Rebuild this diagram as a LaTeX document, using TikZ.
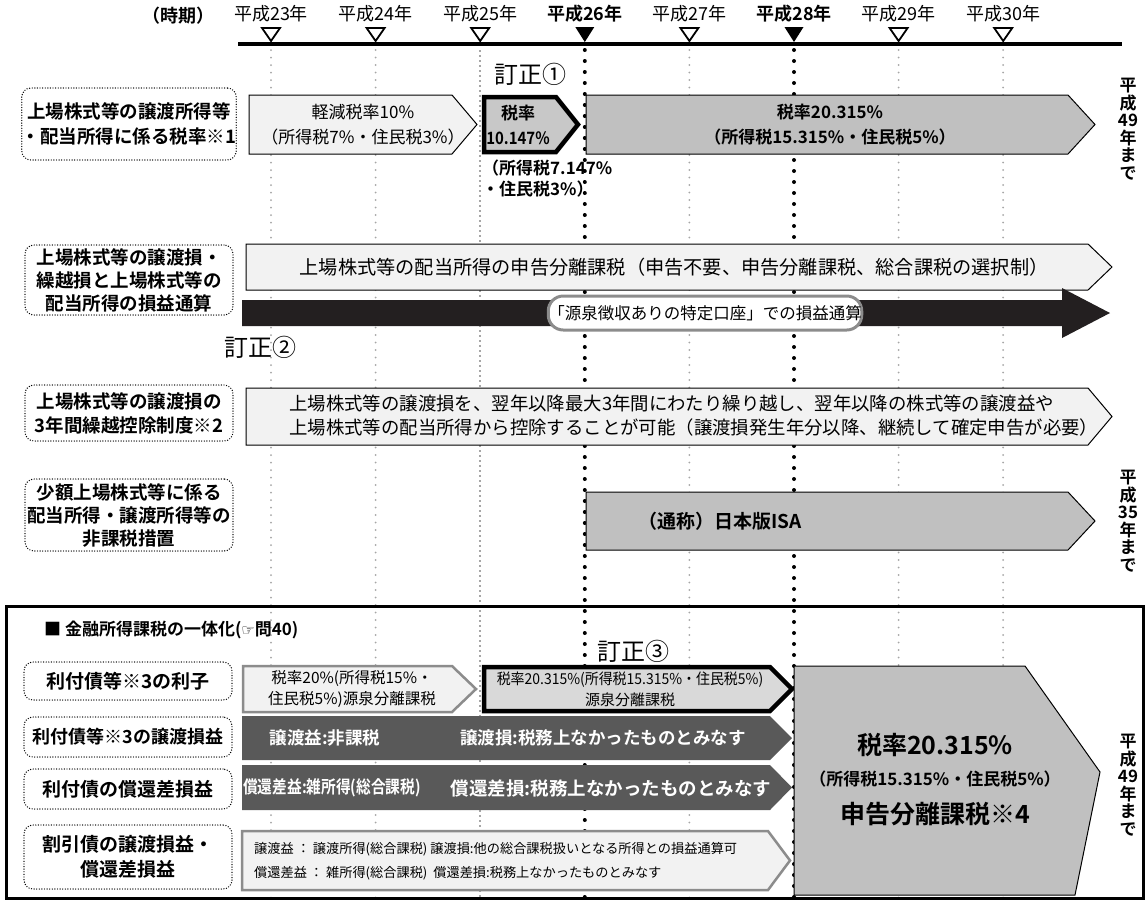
\documentclass[tikz,border=0pt]{standalone}
\usepackage{fontspec}
\setmainfont{Noto Sans CJK JP}[BoldFont={Noto Sans CJK JP Bold}]
\newfontfamily\djv{DejaVu Sans}
\definecolor{lightf}{HTML}{F2F2F2}
\definecolor{midg}{HTML}{C0C0C0}
\definecolor{a2g}{HTML}{C8C8C8}
\definecolor{e2g}{HTML}{D9D9D9}
\definecolor{darkg}{HTML}{595959}
\definecolor{dotg}{HTML}{A6A6A6}
\definecolor{bordg}{HTML}{8C8C8C}
\definecolor{blk}{HTML}{231F20}
\newcommand\fz[2]{\fontsize{#1pt}{#2pt}\selectfont}
\newcommand\cx[2]{\scalebox{#1}[1]{#2}}
\newcommand\parrow[6]{\path[#1] (#2,#5) -- (#3,#5) -- (#4,{(#5+#6)/2}) -- (#3,#6) -- (#2,#6) -- cycle;}
\tikzset{
 lbl/.style={draw=black, line width=1.4pt, dash pattern=on 0pt off 2.6pt, line cap=round, rounded corners=9pt, fill=white, align=center, inner sep=0pt, minimum width=208pt},
 lightarr/.style={fill=lightf, draw=black, line width=1pt},
 grayarr/.style={fill=midg, draw=black, line width=1pt},
 thickarr/.style={fill=a2g, draw=black, line width=4.5pt, line join=miter},
 lightg/.style={fill=lightf, draw=bordg, line width=2.5pt, line join=miter},
 darkarr/.style={fill=darkg},
 thicke2/.style={fill=e2g, draw=black, line width=4.5pt, line join=miter},
 txt/.style={inner sep=0pt, align=center},
 gdot/.style={draw=dotg, line width=2pt, line cap=round, dash pattern=on 0pt off 7.5pt},
 bdot/.style={draw=black, line width=4pt, line cap=round, dash pattern=on 0pt off 11pt},
 gdash/.style={draw=dotg, line width=2pt, dash pattern=on 2pt off 3pt},
 tri/.style={draw=black, fill=white, line width=1.8pt, line join=miter},
 vtxt/.style={txt, font=\bfseries\fz{17}{17.5}},
}
\begin{document}
\begin{tikzpicture}[x=1pt,y=-1pt]
\useasboundingbox (0,0) rectangle (1148,903);
\fill[white] (0,0) rectangle (1148,903);
% vertical guide lines
\foreach \x in {271,375.6,689.4,898.6,1003.2} \draw[gdot] (\x,50) -- (\x,898);
\draw[gdash] (480.2,50) -- (480.2,898);
\foreach \x in {584.8,794} \draw[bdot] (\x,50) -- (\x,898);
% axis
\draw[line width=4pt] (238,44) -- (1122,44);
\foreach \x in {271,375.6,480.2,689.4,898.6,1003.2} \draw[tri] (\x-9,28) -- (\x+9,28) -- (\x,41) -- cycle;
\foreach \x in {584.8,794} \fill[black] (\x-9.5,27) -- (\x+9.5,27) -- (\x,42) -- cycle;
\node[txt, font=\bfseries\fz{18}{20}] (jiki) at (178,16) {（時期）};
\node[txt, font=\fz{18}{20}] (y23) at (271,14) {平成23年};
\node[txt, font=\fz{18}{20}] (y24) at (375.6,14) {平成24年};
\node[txt, font=\fz{18}{20}] (y25) at (480.2,14) {平成25年};
\node[txt, font=\bfseries\fz{18}{20}] (y26) at (584.8,14) {平成26年};
\node[txt, font=\fz{18}{20}] (y27) at (689.4,14) {平成27年};
\node[txt, font=\bfseries\fz{18}{20}] (y28) at (794,14) {平成28年};
\node[txt, font=\fz{18}{20}] (y29) at (898.6,14) {平成29年};
\node[txt, font=\fz{18}{20}] (y30) at (1003.2,14) {平成30年};
% row 1
\node[lbl, minimum height=72pt, font=\bfseries\fz{18.5}{25}] (l1) at (129,124) {上場株式等の譲渡所得等\\・配当所得に係る税率※1};
\parrow{lightarr}{249}{452}{477}{95}{154}
\parrow{thickarr}{484}{556}{578}{97}{152}
\parrow{grayarr}{586}{1068}{1095}{95}{154}
\node[txt, font=\fz{17}{25}] (a1t) at (363,125) {軽減税率10\%\\（所得税7\%・住民税3\%）};
\node[txt, font=\bfseries\fz{17}{25}] (a2t) at (518,125) {税率\\\cx{0.88}{10.147\%}};
\node[txt, font=\bfseries\fz{17}{25}] (a3t) at (830,125) {税率20.315\%\\（所得税15.315\%・住民税5\%）};
\node[txt, font=\fz{24}{26}] (t1) at (530,74) {訂正①};
\node[txt, font=\bfseries\fz{17}{21}, anchor=north west, align=left] (a2n) at (482,160) {（所得税7.147\%\\・住民税3\%）};
\node[vtxt] (v1) at (1128,129) {平\\成\\49\\年\\ま\\で};
% row 2
\node[lbl, minimum height=70pt, font=\bfseries\fz{18.5}{23}] (l2) at (129,280) {上場株式等の譲渡損・\\繰越損と上場株式等の\\配当所得の損益通算};
\parrow{lightarr}{246}{1088}{1112}{244}{290}
\node[txt, font=\fz{19.2}{20}] (b1t) at (674,267) {上場株式等の配当所得の申告分離課税（申告不要、申告分離課税、総合課税の選択制）};
\fill[blk] (242,300) -- (1062,300) -- (1062,288) -- (1110,313) -- (1062,338) -- (1062,326) -- (242,326) -- cycle;
\node[draw=bordg, line width=3pt, fill=white, rounded corners=15pt, minimum width=300pt, minimum height=34pt, inner sep=0pt, font=\fz{16.5}{18}] (gensen) at (705,313) {「源泉徴収ありの特定口座」での損益通算};
\node[txt, font=\fz{24}{26}] (t2) at (260,347) {訂正②};
% row 3
\node[lbl, minimum height=56pt, font=\bfseries\fz{18.5}{24}] (l3) at (129,413) {上場株式等の譲渡損の\\3年間繰越控除制度※2};
\parrow{lightarr}{246}{1088}{1112}{388}{445}
\node[txt, anchor=west, align=left, font=\fz{18.4}{24}] (c1t) at (289,416) {上場株式等の譲渡損を、翌年以降最大3年間にわたり繰り越し、翌年以降の株式等の譲渡益や\\上場株式等の配当所得から控除することが可能（譲渡損発生年分以降、継続して確定申告が必要）};
% row 4
\node[lbl, minimum height=72pt, font=\bfseries\fz{18.5}{23}] (l4) at (129,515) {少額上場株式等に係る\\配当所得・譲渡所得等の\\非課税措置};
\parrow{grayarr}{586}{1068}{1095}{492}{550}
\node[txt, font=\bfseries\fz{19}{20}] (d1t) at (720,521) {（通称）日本版ISA};
\node[vtxt] (v2) at (1128,521) {平\\成\\35\\年\\ま\\で};
% bottom frame
\draw[line width=3pt] (6,606) rectangle (1143,898);
\node[txt, anchor=west, font=\bfseries\fz{17}{20}] (hdr) at (44,630) {■ 金融所得課税の一体化({\djv\fz{15}{18}☞}問40)};
\node[txt, font=\fz{24}{26}] (t3) at (633,651) {訂正③};
\node[lbl, minimum height=38pt, font=\bfseries\fz{19}{20}] (l5) at (128,681) {利付債等※3の利子};
\node[lbl, minimum height=40pt, font=\bfseries\fz{18}{20}] (l6) at (128,737) {利付債等※3の譲渡損益};
\node[lbl, minimum height=40pt, font=\bfseries\fz{19}{20}] (l7) at (128,789) {利付債の償還差損益};
\node[lbl, minimum height=64pt, font=\bfseries\fz{19}{25}] (l8) at (128,857) {割引債の譲渡損益・\\償還差損益};
\parrow{lightg}{243}{452}{476}{666}{712}
\parrow{thicke2}{484}{770}{792}{667}{711}
\parrow{darkarr}{242}{770}{792}{716}{760}
\parrow{darkarr}{242}{770}{792}{765}{810}
\parrow{lightg}{242}{768}{790}{831}{890}
\path[grayarr] (794,666) -- (1025,666) -- (1100,772) -- (1075,895) -- (794,895) -- cycle;
\node[txt, font=\fz{15.5}{21}] (e1t) at (352,689) {税率20\%(所得税15\%・\\住民税5\%)源泉分離課税};
\node[txt, font=\fz{15}{21}] (e2t) at (630,689) {\cx{0.93}{税率20.315\%(所得税15.315\%・住民税5\%)}\\源泉分離課税};
\node[txt, text=white, font=\bfseries\fz{17.5}{20}] (f1a) at (325,738) {譲渡益:非課税};
\node[txt, text=white, font=\bfseries\fz{17.5}{20}] (f1b) at (603,738) {譲渡損:税務上なかったものとみなす};
\node[txt, text=white, font=\bfseries\fz{17.5}{20}] (g1a) at (332,788) {\cx{0.84}{償還差益:雑所得(総合課税)}};
\node[txt, text=white, font=\bfseries\fz{18.5}{20}] (g1b) at (611,788) {償還差損:税務上なかったものとみなす};
\node[txt, anchor=west, align=left, font=\fz{13.2}{24}] (h1t) at (254,861) {譲渡益 ： 譲渡所得(総合課税)\ 譲渡損:他の総合課税扱いとなる所得との損益通算可\\償還差益 ： 雑所得(総合課税)\ \ 償還差損:税務上なかったものとみなす};
\node[txt, font=\bfseries\fz{25}{27}] (bg1) at (935,745) {税率20.315\%};
\node[txt, font=\bfseries\fz{17}{20}] (bg2) at (935,779) {（所得税15.315\%・住民税5\%）};
\node[txt, font=\bfseries\fz{25}{27}] (bg3) at (935,814) {申告分離課税※4};
\node[vtxt] (v3) at (1128,785) {平\\成\\49\\年\\ま\\で};
\end{tikzpicture}
\end{document}
